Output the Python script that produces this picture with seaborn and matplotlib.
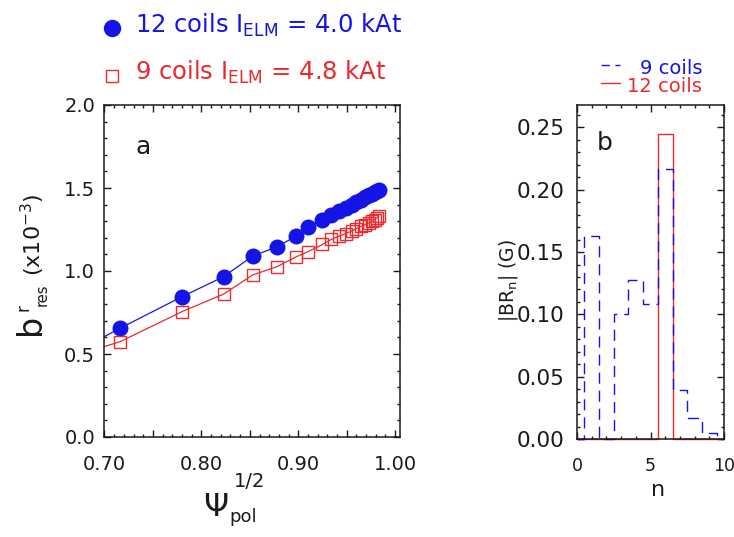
import numpy as np
import matplotlib
matplotlib.use("Agg")
import matplotlib.pyplot as plt
import matplotlib.ticker as mticker
from matplotlib.lines import Line2D
import seaborn as sns

sns.set_style("ticks")
plt.rcParams["font.family"] = ["DejaVu Sans"]
plt.rcParams["mathtext.fontset"] = "dejavusans"

blue = "#1414e6"
red = "#ea2a2e"
ink = "#1a1a1a"

# panel a: resonant field vs sqrt(psi_pol)
psi = [0.716, 0.780, 0.823, 0.853, 0.878, 0.898, 0.910, 0.925, 0.934, 0.942,
       0.949, 0.955, 0.960, 0.965, 0.969, 0.973, 0.976, 0.979, 0.981, 0.983]
b12 = [0.655, 0.845, 0.966, 1.090, 1.146, 1.211, 1.267, 1.307, 1.335, 1.36,
       1.38, 1.40, 1.415, 1.43, 1.445, 1.455, 1.465, 1.475, 1.48, 1.49]
b9 = [0.574, 0.755, 0.861, 0.976, 1.026, 1.086, 1.116, 1.160, 1.19, 1.21,
      1.225, 1.24, 1.255, 1.27, 1.28, 1.29, 1.30, 1.31, 1.32, 1.33]
# lines run on to the left edge
psi_edge = 0.70
b12_edge = 0.605
b9_edge = 0.545

# panel b: spectrum |BR_n|
n = [0, 1, 2, 3, 4, 5, 6, 7, 8, 9, 10]
br9 = [0.0, 0.163, 0.0, 0.100, 0.1275, 0.108, 0.217, 0.039, 0.0166, 0.0046, 0.0]
br12 = [0.0, 0.0, 0.0, 0.0, 0.0, 0.0, 0.2446, 0.0, 0.0, 0.0, 0.0]

W, H = 734, 537


def fx(px):
    return px / W


def fy(py):
    return 1 - py / H


fig = plt.figure(figsize=(7.34, 5.37), dpi=100)

ax = fig.add_axes([fx(103.5), fy(437), fx(400) - fx(103.5), fy(105) - fy(437)])
axb = fig.add_axes([fx(577), fy(439), fx(724) - fx(577), fy(105) - fy(439)])

# ---- panel a
sns.lineplot(x=[psi_edge] + psi, y=[b12_edge] + b12, color=blue, lw=0.9,
             estimator=None, ax=ax)
sns.lineplot(x=[psi_edge] + psi, y=[b9_edge] + b9, color=red, lw=0.9,
             estimator=None, ax=ax)
sns.lineplot(x=psi, y=b12, color=blue, marker="o", linestyle="", markersize=11.5,
             markeredgecolor=blue, markeredgewidth=0, estimator=None, ax=ax)
sns.lineplot(x=psi, y=b9, color=red, marker="s", linestyle="", markersize=9,
             markerfacecolor="none", markeredgecolor=red, markeredgewidth=1.0,
             estimator=None, ax=ax)

ax.set_xlim(0.699, 1.005)
ax.set_ylim(0, 2.0)
ax.xaxis.set_major_locator(mticker.MultipleLocator(0.05))
ax.xaxis.set_minor_locator(mticker.MultipleLocator(0.01))
ax.yaxis.set_major_locator(mticker.MultipleLocator(0.5))
ax.yaxis.set_minor_locator(mticker.MultipleLocator(0.1))
ax.xaxis.set_major_formatter(mticker.FuncFormatter(
    lambda v, p: f"{v:.2f}" if abs(v * 10 - round(v * 10)) < 1e-6 else ""))
ax.yaxis.set_major_formatter(mticker.FormatStrFormatter("%.1f"))
ax.set_xlabel("")
ax.set_ylabel("")

# ---- panel b
sns.lineplot(x=n, y=br12, color=red, lw=1.0, drawstyle="steps-mid",
             estimator=None, clip_on=False, ax=axb)
sns.lineplot(x=n, y=br9, color=blue, lw=1.0, drawstyle="steps-mid",
             linestyle=(0, (8, 5)), estimator=None, clip_on=False, ax=axb)

axb.set_xlim(0, 10)
axb.set_ylim(0, 0.268)
axb.xaxis.set_major_locator(mticker.MultipleLocator(5))
axb.xaxis.set_minor_locator(mticker.MultipleLocator(1))
axb.yaxis.set_major_locator(mticker.MultipleLocator(0.05))
axb.yaxis.set_minor_locator(mticker.MultipleLocator(0.01))
axb.yaxis.set_major_formatter(mticker.FormatStrFormatter("%.2f"))
axb.set_xlabel("")
axb.set_ylabel("")

for a in (ax, axb):
    a.tick_params(which="both", direction="in", top=True, right=True,
                  colors=ink, width=1.0)
    a.tick_params(which="major", length=5)
    a.tick_params(which="minor", length=2.5)
    for s in a.spines.values():
        s.set_linewidth(1.1)
        s.set_color(ink)
        s.set_visible(True)

ax.tick_params(axis="x", pad=13, labelsize=14)
ax.tick_params(axis="y", pad=6, labelsize=14)
axb.tick_params(axis="x", pad=13, labelsize=12.5)
axb.tick_params(axis="y", pad=9, labelsize=15.5)


# ---- texts in figure pixels (y from top)
def ftext(x, y, s, **kw):
    fig.text(fx(x), fy(y), s, **kw)


# legend, panel a
fig.add_artist(Line2D([fx(112)], [fy(27.5)], marker="o", ms=11.5, color=blue,
                      ls="", transform=fig.transFigure))
fig.add_artist(Line2D([fx(112)], [fy(76)], marker="s", ms=8, mfc="none",
                      mec=red, mew=1.0, ls="", transform=fig.transFigure))
ftext(135, 33, r"12 coils I$_{\mathrm{ELM}}$ = 4.0 kAt", color=blue,
      fontsize=17.5, ha="left", va="baseline")
ftext(135, 80, r"9 coils I$_{\mathrm{ELM}}$ = 4.8 kAt", color=red,
      fontsize=17.5, ha="left", va="baseline")

# panel a labels
ftext(143, 147, "a", fontsize=18, ha="center", va="center", color=ink)
ftext(30.5, 335, "b", rotation=90, fontsize=24, ha="center", va="bottom", color=ink)
ftext(23.5, 308, "r", rotation=90, fontsize=12, ha="center", va="center", color=ink)
ftext(42.5, 295, "res", rotation=90, fontsize=10.5, ha="center", va="center", color=ink)
ftext(32.5, 276, r"(x10$^{-3}$)", rotation=90, fontsize=16, ha="center",
      va="bottom", color=ink)
ftext(203, 516, "Ψ", fontsize=23, ha="left", va="baseline", color=ink)
ftext(229, 522, "pol", fontsize=13, ha="left", va="baseline", color=ink)
ftext(234, 487, "1/2", fontsize=14, ha="left", va="baseline", color=ink)

# panel b labels
ftext(605, 143, "b", fontsize=18, ha="center", va="center", color=ink)
ftext(508, 280, r"|BR$_{\mathrm{n}}$| (G)", rotation=90, fontsize=13.5,
      ha="center", va="center", color=ink)
ftext(658, 490, "n", fontsize=16, ha="center", va="center", color=ink)

# legend, panel b
fig.add_artist(Line2D([fx(601), fx(620)], [fy(65), fy(65)], color=blue, lw=1.0,
                      ls=(0, (6, 4)), transform=fig.transFigure))
fig.add_artist(Line2D([fx(601), fx(620)], [fy(83), fy(83)], color=red, lw=1.0,
                      transform=fig.transFigure))
ftext(702, 74, "9 coils", color=blue, fontsize=14, ha="right", va="baseline")
ftext(702, 92, "12 coils", color=red, fontsize=14, ha="right", va="baseline")

fig.savefig("out.png", dpi=100)
